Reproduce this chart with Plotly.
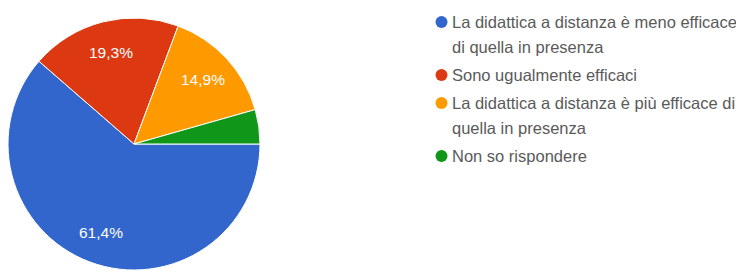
import math
import plotly.graph_objects as go

labels = [
    "La didattica a distanza è meno efficace<br>di quella in presenza",
    "Sono ugualmente efficaci",
    "La didattica a distanza è più efficace di<br>quella in presenza",
    "Non so rispondere",
]
values = [61.4, 19.3, 14.9, 4.4]
slice_text = ["61,4%", "19,3%", "14,9%", ""]
colors = ["#3366cc", "#dc3912", "#ff9900", "#109618"]

# page has an 8px body margin: figure occupies screen x 8..744, y 8..279
OFF = 8
W, H = 744 - OFF, 279 - OFF
FONT = "Liberation Sans, Arial, sans-serif"


def px(x):
    return (x - OFF) / W


def py(y):
    return (279 - y) / H


CX, CY, R = 134, 144, 126

fig = go.Figure()
fig.add_trace(go.Pie(
    labels=[l.replace("<br>", " ") for l in labels],
    values=values,
    textinfo="none",
    marker=dict(colors=colors, line=dict(color="white", width=1)),
    sort=False,
    direction="clockwise",
    rotation=90,
    showlegend=False,
    domain=dict(x=[px(CX - R), px(CX + R)], y=[py(CY + R), py(CY - R)]),
))

# slice labels at the bisector of each slice (clockwise from 3 o'clock)
total = sum(values)
start = 90.0  # degrees clockwise from 12 o'clock
for v, t in zip(values, slice_text):
    span = 360.0 * v / total
    mid = math.radians(start + span / 2)
    start += span
    if not t:
        continue
    rr = 0.75 * R
    lx = CX + rr * math.sin(mid)
    ly = CY - rr * math.cos(mid)
    fig.add_annotation(x=px(lx), y=py(ly), xref="paper", yref="paper",
                       xanchor="center", yanchor="middle",
                       text=t, showarrow=False,
                       font=dict(size=15.5, color="white", family=FONT))

# custom legend (circles + text lines)
line_step = 25
item_gap = 28
y = 22
for lab, col in zip(labels, colors):
    lines = lab.split("<br>")
    fig.add_shape(type="circle", xref="paper", yref="paper",
                  x0=px(441.5 - 6), x1=px(441.5 + 6),
                  y0=py(y + 6), y1=py(y - 6),
                  fillcolor=col, line=dict(width=0))
    for i, ln in enumerate(lines):
        fig.add_annotation(x=px(450), y=py(y + i * line_step),
                           xref="paper", yref="paper", xanchor="left", yanchor="middle",
                           text=ln, showarrow=False,
                           font=dict(size=16.5, color="#5a5a5a", family=FONT))
    y += (len(lines) - 1) * line_step + item_gap

fig.update_layout(width=W, height=H, margin=dict(l=0, r=0, t=0, b=0),
                  paper_bgcolor="white", plot_bgcolor="white")
fig.write_html("out.html")
